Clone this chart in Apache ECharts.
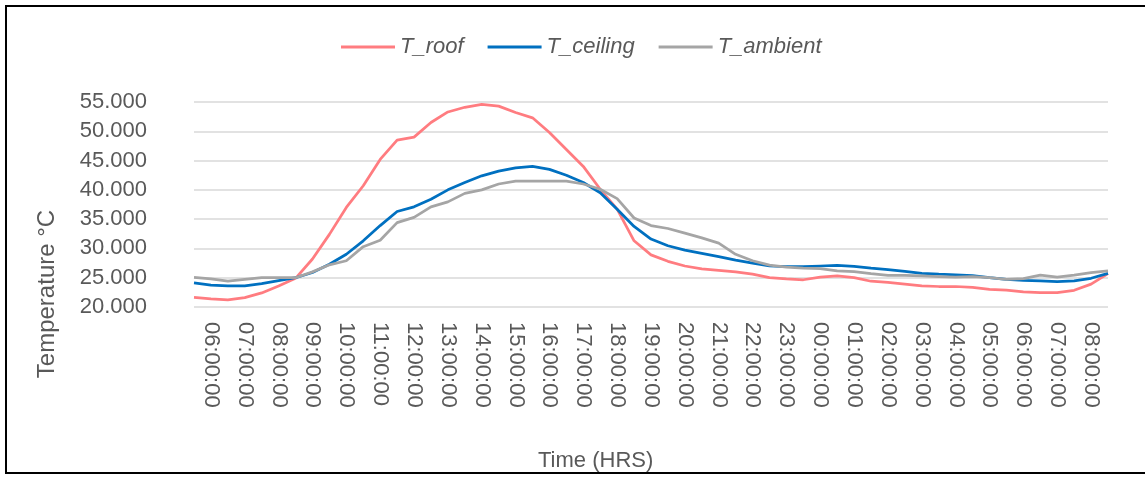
<!DOCTYPE html>
<html>
<head>
<meta charset="utf-8">
<script src="https://cdn.jsdelivr.net/npm/echarts@6/dist/echarts.min.js"></script>
<style>
  html, body { margin: 0; padding: 0; background: #fff; overflow: hidden; }
  #main { width: 1145px; height: 483px; }
  #frame { position: absolute; left: 5px; top: 5px; width: 1160px; height: 465px;
           border: 2px solid #000; pointer-events: none; }
</style>
</head>
<body>
<div id="main"></div>
<div id="frame"></div>
<script>
// half-hourly readings, 05:30 to 08:30 next day
var times = [
  '05:30:00', '06:00:00', '06:30:00', '07:00:00', '07:30:00', '08:00:00', '08:30:00',
  '09:00:00', '09:30:00', '10:00:00', '10:30:00', '11:00:00', '11:30:00', '12:00:00',
  '12:30:00', '13:00:00', '13:30:00', '14:00:00', '14:30:00', '15:00:00', '15:30:00',
  '16:00:00', '16:30:00', '17:00:00', '17:30:00', '18:00:00', '18:30:00', '19:00:00',
  '19:30:00', '20:00:00', '20:30:00', '21:00:00', '21:30:00', '22:00:00', '22:30:00',
  '23:00:00', '23:30:00', '00:00:00', '00:30:00', '01:00:00', '01:30:00', '02:00:00',
  '02:30:00', '03:00:00', '03:30:00', '04:00:00', '04:30:00', '05:00:00', '05:30:00',
  '06:00:00', '06:30:00', '07:00:00', '07:30:00', '08:00:00', '08:30:00'
];

var tRoof = [
  21.65, 21.4, 21.2, 21.6, 22.4, 23.6, 24.9, 28.2, 32.4, 37.0, 40.7, 45.2, 48.5, 49.0,
  51.5, 53.3, 54.1, 54.6, 54.3, 53.2, 52.3, 49.8, 46.9, 44.0, 40.1, 36.7, 31.3, 28.9,
  27.8, 27.0, 26.5, 26.25, 26.0, 25.6, 25.0, 24.8, 24.65, 25.1, 25.3, 25.0, 24.4, 24.2,
  23.9, 23.6, 23.5, 23.5, 23.35, 23.0, 22.9, 22.6, 22.45, 22.45, 22.85, 23.9, 25.7
];

var tCeiling = [
  24.1, 23.75, 23.6, 23.6, 24.0, 24.5, 25.0, 25.9, 27.3, 29.0, 31.3, 33.9, 36.3, 37.1,
  38.4, 40.0, 41.25, 42.4, 43.2, 43.75, 44.0, 43.5, 42.5, 41.25, 39.5, 36.7, 33.75, 31.6,
  30.45, 29.7, 29.15, 28.6, 28.0, 27.5, 27.0, 26.9, 26.9, 27.0, 27.1, 26.95, 26.65, 26.4,
  26.1, 25.75, 25.6, 25.5, 25.35, 25.0, 24.7, 24.55, 24.45, 24.35, 24.45, 24.9, 25.75
];

var tAmbient = [
  25.05, 24.8, 24.4, 24.7, 25.0, 25.0, 25.0, 26.0, 27.2, 27.9, 30.3, 31.4, 34.4, 35.3,
  37.1, 37.95, 39.4, 40.0, 41.0, 41.5, 41.5, 41.5, 41.5, 41.0, 40.1, 38.5, 35.2, 33.9,
  33.4, 32.6, 31.8, 30.9, 29.0, 27.9, 27.15, 26.8, 26.65, 26.55, 26.15, 26.05, 25.7, 25.4,
  25.4, 25.3, 25.2, 25.1, 25.2, 25.0, 24.7, 24.85, 25.45, 25.1, 25.45, 25.85, 26.15
];

var font = 'Liberation Sans';
var textColor = '#595959';

var chart = echarts.init(document.getElementById('main'), null, { renderer: 'canvas' });

var option = {
  backgroundColor: '#ffffff',
  animation: false,
  color: ['#FF7C80', '#0070C0', '#A5A5A5'],
  title: {
    text: 'Time (HRS)',
    left: 533,
    top: 445,
    textStyle: { fontFamily: font, fontSize: 22, fontWeight: 'normal', color: textColor }
  },
  graphic: [{
    type: 'text',
    x: 47,
    y: 294,
    rotation: Math.PI / 2,
    style: {
      text: 'Temperature \u00B0C',
      font: '24px "Liberation Sans"',
      fill: textColor,
      align: 'center',
      verticalAlign: 'middle'
    }
  }],
  legend: {
    left: 336,
    top: 31,
    icon: 'rect',
    itemWidth: 54,
    itemHeight: 3,
    itemGap: 24,
    textStyle: { fontFamily: font, fontSize: 22, fontStyle: 'italic', color: textColor }
  },
  grid: { left: 194, right: 37, top: 102, height: 205 },
  xAxis: {
    type: 'category',
    data: times,
    boundaryGap: false,
    axisLine: { show: false },
    axisTick: { show: false },
    axisLabel: {
      interval: function (index) { return index % 2 === 1; },
      rotate: -90,
      margin: 15,
      fontFamily: font,
      fontSize: 22,
      color: textColor
    }
  },
  yAxis: {
    type: 'value',
    min: 20,
    max: 55,
    interval: 5,
    axisLine: { show: false },
    axisTick: { show: false },
    axisLabel: {
      margin: 47,
      fontFamily: font,
      fontSize: 22,
      color: textColor,
      formatter: function (v) { return v.toFixed(3); }
    },
    splitLine: { lineStyle: { color: '#D9D9D9', width: 1.5 } }
  },
  series: [
    { name: 'T_roof', type: 'line', data: tRoof, showSymbol: false, lineStyle: { width: 2.75 } },
    { name: 'T_ceiling', type: 'line', data: tCeiling, showSymbol: false, lineStyle: { width: 2.75 } },
    { name: 'T_ambient', type: 'line', data: tAmbient, showSymbol: false, lineStyle: { width: 2.75 } }
  ]
};

chart.setOption(option);
</script>
</body>
</html>
